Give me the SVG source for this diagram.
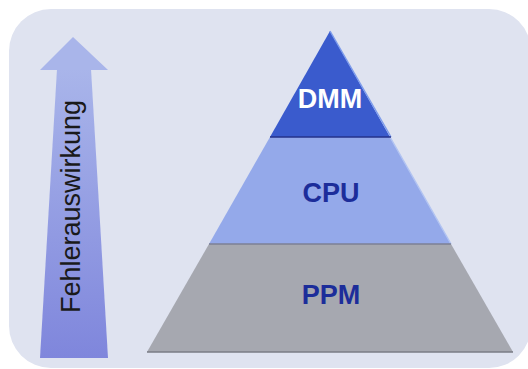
<svg xmlns="http://www.w3.org/2000/svg" width="528" height="369" viewBox="0 0 528 369">
<defs>
<linearGradient id="shaft" x1="0" y1="0" x2="0" y2="1">
<stop offset="0" stop-color="#a9b5ea"/>
<stop offset="1" stop-color="#7f86dc"/>
</linearGradient>
<style>
.lbl{font-family:"Liberation Sans",Arial,sans-serif;font-weight:bold;font-size:27px;text-anchor:middle}
.side{font-family:"Liberation Sans",Arial,sans-serif;font-size:27px;fill:#1a1a1a}
</style>
</defs>
<rect x="9" y="9" width="522" height="359" rx="42" ry="42" fill="#dfe3f0"/>
<g id="arrow">
<polygon points="57,69 91,69 108,358 40,358" fill="url(#shaft)"/>
<polygon points="73,37 108,70 40,70" fill="#a9b5ea"/>
<text class="side" transform="translate(80,313) rotate(-90)">Fehlerauswirkung</text>
</g>
<g id="ppm">
<polygon points="209,244 451,244 513,352 147,352" fill="#a6a8b0"/>
<line x1="147" y1="352" x2="513" y2="352" stroke="#7a7c86" stroke-width="1.5"/>
<text class="lbl" x="331" y="304" fill="#1c2d9a">PPM</text>
</g>
<g id="cpu">
<polygon points="270,137 390,137 451,244 209,244" fill="#94a9ea"/>
<line x1="390" y1="137" x2="451" y2="244" stroke="#b2c4f2" stroke-width="1.5"/>
<line x1="209" y1="244" x2="451" y2="244" stroke="#7d8094" stroke-width="1.5"/>
<text class="lbl" x="331" y="202" fill="#1c2d9a">CPU</text>
</g>
<g id="dmm">
<polygon points="330,31 390,137 270,137" fill="#3a5bcd"/>
<line x1="330" y1="31" x2="391" y2="137" stroke="#7d9cec" stroke-width="1.5"/>
<line x1="270" y1="137" x2="391" y2="137" stroke="#24328a" stroke-width="1.5"/>
<text class="lbl" x="330" y="108" fill="#ffffff">DMM</text>
</g>
</svg>
